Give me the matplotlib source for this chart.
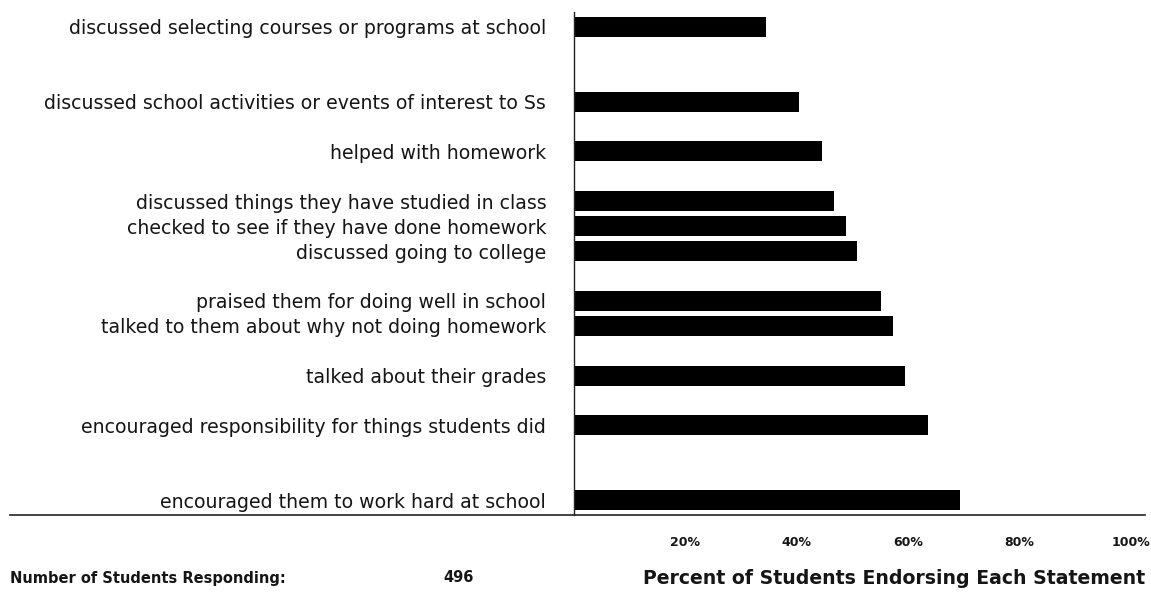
import matplotlib
matplotlib.use("Agg")
import matplotlib.pyplot as plt
from matplotlib.lines import Line2D

statements = [
    "discussed selecting courses or programs at school",
    "discussed school activities or events of interest to Ss",
    "helped with homework",
    "discussed things they have studied in class",
    "checked to see if they have done homework",
    "discussed going to college",
    "praised them for doing well in school",
    "talked to them about why not doing homework",
    "talked about their grades",
    "encouraged responsibility for things students did",
    "encouraged them to work hard at school",
]
percents = [34.4, 40.3, 44.6, 46.7, 48.8, 50.8, 55.1, 57.2, 59.4, 63.6, 69.3]
tick_values = [20, 40, 60, 80, 100]
tick_labels = ["20%", "40%", "60%", "80%", "100%"]
n_students = 496

# layout: vertical slot of each row (grouping gaps as in the original)
row_slots = [0, 3, 5, 7, 8, 9, 11, 12, 14, 16, 19]

plt.rcParams['font.family'] = ['DejaVu Sans']

W, H = 1151, 593
fig = plt.figure(figsize=(W / 100, H / 100), dpi=100)

ax_left, ax_right = 574, 1145
ax_top, ax_bottom = 12, 515
ax = fig.add_axes([ax_left / W, (H - ax_bottom) / H,
                   (ax_right - ax_left) / W, (ax_bottom - ax_top) / H])

ax.barh(row_slots, percents, height=0.8, color="black")
ax.set_xlim(0, 102.5)
ax.set_ylim(19.6, -0.6)

ax.set_yticks(row_slots)
ax.set_yticklabels(statements, fontsize=13.6, color="#151515")
ax.tick_params(axis="y", length=0, pad=20)

ax.set_xticks(tick_values)
ax.set_xticklabels(tick_labels, fontsize=9, fontweight="bold", color="#151515")
ax.tick_params(axis="x", length=0, pad=15)

for s in ["top", "right", "bottom"]:
    ax.spines[s].set_visible(False)
ax.spines["left"].set_linewidth(1.0)
ax.spines["left"].set_color("#222222")

# long baseline spanning the whole figure width
fig.add_artist(Line2D([10 / W, 1145 / W], [(H - 515) / H, (H - 515) / H],
                      color="#222222", linewidth=1.2))

fig.text(10 / W, (H - 578) / H, "Number of Students Responding:",
         fontsize=10.5, fontweight="bold", va="center", ha="left", color="#151515")
fig.text(443 / W, (H - 578) / H, str(n_students),
         fontsize=10.5, fontweight="bold", va="center", ha="left", color="#151515")
fig.text(1145 / W, (H - 578) / H, "Percent of Students Endorsing Each Statement",
         fontsize=13.6, fontweight="bold", va="center", ha="right", color="#151515")

fig.savefig("out.png", dpi=100, facecolor="white")
